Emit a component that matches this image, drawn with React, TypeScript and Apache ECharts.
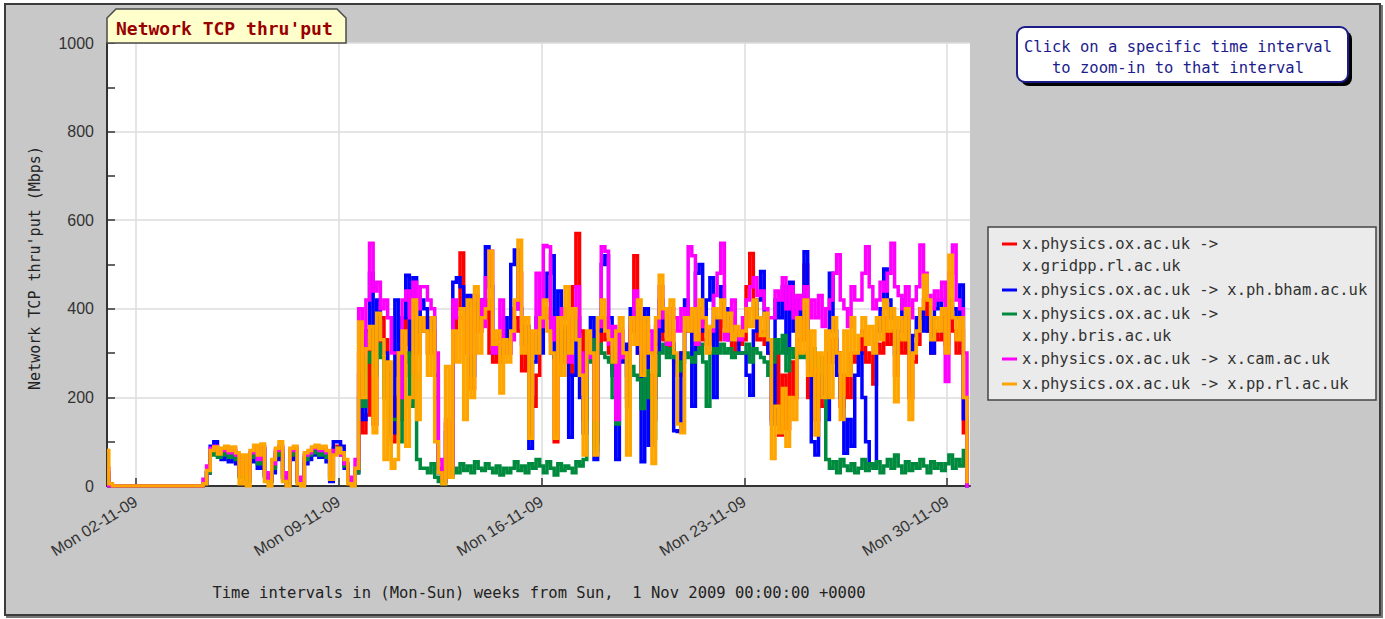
import React, { useEffect, useRef } from "react";
import * as echarts from "echarts";

// ---- axis definitions ----
const STEP_HOURS = 3; // one sample every 3 hours from Sun 1 Nov 2009 00:00
const X_MAX_HOURS = 715;
const tickHours = [24, 192, 360, 528, 696];
const tickLabels = ["Mon 02-11-09", "Mon 09-11-09", "Mon 16-11-09", "Mon 23-11-09", "Mon 30-11-09"];
const yMax = 1000;
const yInterval = 200;

const seriesNames = [
  "x.physics.ox.ac.uk -> x.gridpp.rl.ac.uk",
  "x.physics.ox.ac.uk -> x.ph.bham.ac.uk",
  "x.physics.ox.ac.uk -> x.phy.bris.ac.uk",
  "x.physics.ox.ac.uk -> x.cam.ac.uk",
  "x.physics.ox.ac.uk -> x.pp.rl.ac.uk",
];
const legendLabels = [
  "x.physics.ox.ac.uk ->\nx.gridpp.rl.ac.uk",
  "x.physics.ox.ac.uk -> x.ph.bham.ac.uk",
  "x.physics.ox.ac.uk ->\nx.phy.bris.ac.uk",
  "x.physics.ox.ac.uk -> x.cam.ac.uk",
  "x.physics.ox.ac.uk -> x.pp.rl.ac.uk",
];
const seriesColors = ["#ff0000", "#0000ff", "#008a3e", "#ff00ff", "#ffa500"];

// ---- values (Mbps), 8 samples per day ----
const gridppValues = [
  10, 0, 0, 0, 0, 0, 0, 0,
  0, 0, 0, 0, 0, 0, 0, 0,
  0, 0, 0, 0, 0, 0, 0, 0,
  0, 0, 0, 5, 30, 75, 85, 70,
  75, 80, 70, 80, 65, 25, 60, 15,
  70, 80, 55, 85, 25, 12, 45, 75,
  85, 20, 8, 75, 80, 15, 5, 65,
  70, 80, 85, 75, 80, 70, 20, 85,
  90, 75, 50, 10, 5, 35, 300, 120,
  160, 350, 140, 300, 380, 330, 200, 100,
  200, 150, 320, 380, 250, 400, 300, 350,
  380, 300, 350, 200, 40, 10, 140, 25,
  300, 400, 526, 300, 400, 220, 420, 350,
  380, 420, 300, 280, 320, 280, 350, 300,
  400, 380, 350, 260, 300, 200, 180, 250,
  350, 400, 380, 300, 100, 330, 280, 360,
  250, 450, 570, 350, 150, 300, 330, 100,
  300, 380, 330, 300, 260, 280, 320, 300,
  200, 350, 520, 300, 200, 320, 250, 150,
  320, 380, 330, 300, 350, 280, 250, 300,
  350, 380, 320, 300, 380, 330, 320, 350,
  350, 330, 400, 360, 340, 300, 330, 320,
  330, 450, 525, 400, 330, 350, 320, 300,
  150, 300, 115, 250, 130, 280, 200, 330,
  330, 499, 200, 300, 150, 250, 180, 300,
  280, 330, 300, 180, 250, 200, 300, 280,
  300, 350, 280, 300, 230, 320, 300, 380,
  320, 350, 250, 330, 300, 350, 200, 280,
  320, 380, 420, 350, 300, 350, 330, 380,
  320, 400, 350, 300, 350, 120, 100,
];

const bhamValues = [
  30, 0, 0, 0, 0, 0, 0, 0,
  0, 0, 0, 0, 0, 0, 0, 0,
  0, 0, 0, 0, 0, 0, 0, 0,
  0, 0, 0, 5, 30, 90, 100, 70,
  60, 70, 55, 75, 50, 25, 55, 15,
  55, 70, 40, 80, 20, 10, 30, 60,
  70, 15, 5, 60, 70, 10, 5, 50,
  60, 70, 75, 65, 70, 55, 10, 100,
  100, 90, 40, 10, 5, 30, 250, 150,
  350, 480, 300, 420, 330, 300, 250, 120,
  420, 250, 380, 476, 300, 470, 350, 420,
  400, 350, 380, 250, 30, 10, 120, 30,
  460, 470, 450, 380, 430, 250, 420, 380,
  420, 540, 450, 300, 310, 300, 380, 330,
  500, 533, 400, 320, 360, 85, 280, 380,
  300, 420, 480, 520, 290, 440, 300, 350,
  110, 250, 380, 200, 120, 300, 380, 60,
  350, 500, 520, 380, 250, 60, 280, 320,
  250, 400, 380, 300, 55, 400, 92, 200,
  300, 420, 350, 380, 320, 125, 123, 300,
  420, 350, 180, 480, 500, 350, 420, 470,
  200, 380, 450, 400, 330, 380, 350, 300,
  300, 250, 205, 350, 420, 484, 380, 300,
  140, 420, 380, 450, 300, 460, 350, 420,
  380, 529, 300, 100, 70, 250, 200, 150,
  480, 350, 250, 200, 74, 150, 90, 250,
  300, 200, 100, 47, 47, 350, 400, 490,
  420, 380, 300, 350, 420, 380, 300, 340,
  380, 400, 350, 380, 300, 400, 420, 350,
  380, 420, 400, 380, 454, 152, 0,
];

const brisValues = [
  20, 0, 0, 0, 0, 0, 0, 0,
  0, 0, 0, 0, 0, 0, 0, 0,
  0, 0, 0, 0, 0, 0, 0, 0,
  0, 0, 0, 5, 30, 70, 80, 65,
  70, 75, 65, 78, 60, 20, 60, 10,
  65, 75, 50, 85, 25, 10, 40, 70,
  80, 20, 10, 70, 75, 15, 5, 60,
  70, 75, 80, 70, 75, 65, 15, 75,
  85, 70, 45, 10, 5, 30, 200, 180,
  280, 300, 250, 320, 290, 200, 180, 150,
  150, 100, 280, 300, 180, 250, 60, 40,
  40, 30, 50, 20, 10, 5, 30, 20,
  40, 30, 50, 35, 45, 30, 55, 40,
  35, 50, 40, 30, 45, 25, 40, 30,
  40, 55, 35, 45, 30, 50, 40, 60,
  45, 30, 55, 40, 25, 50, 35, 45,
  40, 30, 55, 45, 60, 280, 330, 80,
  320, 300, 290, 280, 200, 140, 300, 290,
  180, 270, 250, 240, 175, 260, 200, 107,
  250, 300, 320, 290, 310, 290, 260, 280,
  300, 290, 280, 300, 320, 280, 180, 300,
  310, 300, 320, 300, 310, 290, 300, 300,
  300, 320, 280, 310, 300, 290, 280, 250,
  280, 330, 300, 340, 260, 310, 290, 300,
  290, 300, 280, 310, 270, 290, 250, 60,
  40, 55, 30, 60, 45, 35, 50, 30,
  40, 60, 35, 50, 40, 55, 30, 45,
  60, 40, 70, 45, 30, 55, 35, 50,
  40, 60, 45, 30, 55, 40, 50, 35,
  50, 70, 40, 60, 45, 80, 40,
];

const camValues = [
  40, 0, 0, 0, 0, 0, 0, 0,
  0, 0, 0, 0, 0, 0, 0, 0,
  0, 0, 0, 0, 0, 0, 0, 0,
  0, 0, 0, 15, 45, 85, 90, 80,
  80, 85, 75, 85, 70, 30, 65, 20,
  75, 85, 60, 90, 30, 15, 50, 80,
  90, 30, 15, 80, 85, 20, 10, 70,
  75, 85, 90, 80, 85, 75, 25, 80,
  80, 70, 50, 20, 10, 60, 400, 300,
  420, 548, 440, 460, 400, 420, 380, 300,
  300, 200, 420, 440, 380, 460, 400, 450,
  450, 420, 400, 300, 60, 20, 150, 40,
  420, 380, 380, 350, 400, 300, 430, 420,
  360, 470, 530, 300, 330, 420, 310, 300,
  330, 400, 480, 350, 320, 300, 340, 480,
  360, 543, 540, 330, 380, 360, 400, 380,
  280, 380, 450, 300, 250, 330, 290, 150,
  360, 540, 530, 320, 360, 150, 350, 290,
  300, 360, 440, 400, 300, 360, 350, 300,
  360, 450, 380, 320, 400, 380, 350, 400,
  360, 540, 520, 320, 400, 360, 330, 350,
  430, 480, 548, 330, 370, 420, 350, 330,
  380, 420, 450, 470, 430, 440, 400, 380,
  380, 440, 420, 470, 400, 450, 380, 430,
  400, 450, 380, 420, 380, 430, 360, 400,
  420, 480, 522, 420, 400, 360, 450, 420,
  420, 480, 540, 450, 400, 420, 460, 440,
  480, 548, 450, 430, 400, 450, 380, 420,
  450, 544, 480, 430, 400, 440, 420, 460,
  236, 480, 544, 420, 400, 300, 0,
];

const pprlValues = [
  80, 5, 0, 0, 0, 0, 0, 0,
  0, 0, 0, 0, 0, 0, 0, 0,
  0, 0, 0, 0, 0, 0, 0, 0,
  0, 0, 0, 5, 35, 80, 88, 72,
  85, 90, 80, 88, 75, 5, 70, 0,
  80, 92, 70, 95, 10, 0, 60, 85,
  100, 10, 0, 85, 90, 5, 0, 75,
  80, 88, 92, 85, 90, 80, 15, 70,
  85, 75, 60, 5, 0, 40, 370, 200,
  310, 360, 120, 390, 330, 60, 280, 40,
  60, 300, 350, 90, 200, 420, 150, 380,
  350, 250, 380, 100, 30, 5, 270, 20,
  350, 280, 400, 150, 420, 200, 450, 300,
  380, 400, 530, 320, 350, 210, 330, 280,
  350, 420, 555, 300, 380, 108, 350, 300,
  380, 420, 350, 300, 108, 380, 250, 450,
  300, 400, 330, 250, 70, 350, 300, 70,
  380, 420, 350, 330, 280, 350, 380, 300,
  70, 380, 320, 420, 250, 380, 300, 51,
  380, 476, 400, 330, 420, 300, 140, 120,
  380, 350, 400, 330, 420, 380, 300, 360,
  400, 380, 420, 350, 390, 330, 360, 340,
  350, 400, 360, 420, 380, 340, 390, 330,
  62, 180, 120, 220, 90, 200, 150, 380,
  300, 420, 250, 350, 115, 300, 200, 350,
  200, 380, 300, 150, 350, 250, 380, 300,
  340, 380, 320, 360, 300, 380, 330, 420,
  350, 400, 190, 380, 330, 400, 150, 300,
  350, 400, 476, 420, 330, 380, 350, 400,
  300, 521, 380, 330, 380, 200, 10,
];

const allValues = [gridppValues, bhamValues, brisValues, camValues, pprlValues];

const MONO = "'DejaVu Sans Mono', 'Liberation Mono', monospace";
const SANS = "'Liberation Sans', Arial, sans-serif";

export default function App() {
  const ref = useRef<HTMLDivElement>(null);

  useEffect(() => {
    if (!ref.current) return;
    const chart = echarts.init(ref.current, null, { renderer: "svg" });

    const series = allValues.map((vals, k) => ({
      name: seriesNames[k],
      type: "line",
      step: "middle",
      data: vals.map((v, i) => [i * STEP_HOURS, v]),
      showSymbol: false,
      symbol: "none",
      silent: true,
      lineStyle: { color: seriesColors[k], width: 3.5, join: "miter", cap: "butt" },
      itemStyle: { color: seriesColors[k] },
      emphasis: { disabled: true },
      z: 2 + k,
    }));

    const legendItemY = [244, 290, 314, 359, 384];
    const legendGraphics: any[] = [];
    legendLabels.forEach((lbl, k) => {
      legendGraphics.push({
        type: "line",
        shape: { x1: 1002, y1: legendItemY[k], x2: 1017, y2: legendItemY[k] },
        style: { stroke: seriesColors[k], lineWidth: 3 },
        z: 100,
      });
      legendGraphics.push({
        type: "text",
        x: 1022,
        y: legendItemY[k] - 11,
        style: {
          text: lbl,
          fill: "#333",
          font: `15.5px ${MONO}`,
          lineHeight: 22,
          textAlign: "left",
          textVerticalAlign: "top",
        },
        z: 100,
      });
    });

    const option: any = {
      animation: false,
      grid: {
        left: 107,
        top: 43,
        width: 863,
        height: 443,
        show: true,
        backgroundColor: "#ffffff",
        borderWidth: 0,
      },
      xAxis: {
        type: "value",
        min: 0,
        max: X_MAX_HOURS,
        axisLine: { show: true, onZero: false, lineStyle: { color: "#333", width: 2 } },
        axisTick: {
          show: true,
          inside: true,
          length: 8,
          customValues: tickHours,
          lineStyle: { color: "#333", width: 1.5 },
        },
        axisLabel: {
          customValues: tickHours,
          rotate: 32,
          margin: 14,
          fontSize: 16,
          fontFamily: SANS,
          color: "#333",
          formatter: (v: number) => {
            const k = tickHours.indexOf(Math.round(v));
            return k >= 0 ? tickLabels[k] : "";
          },
        },
        splitLine: { show: true, lineStyle: { color: "#dcdcdc", width: 1.5 } },
      },
      yAxis: {
        type: "value",
        min: 0,
        max: yMax,
        interval: yInterval,
        axisLine: { show: true, lineStyle: { color: "#333", width: 2 } },
        axisTick: { show: true, inside: true, length: 8, lineStyle: { color: "#333", width: 1.5 } },
        minorTick: { show: true, splitNumber: 2, length: 8, lineStyle: { color: "#333", width: 1.5 } },
        axisLabel: {
          margin: 13,
          fontSize: 16,
          fontFamily: SANS,
          color: "#333",
          formatter: (v: number) => String(v),
        },
        splitLine: { show: true, lineStyle: { color: "#dcdcdc", width: 1.5 } },
      },
      series,
      graphic: [
        // title tab
        {
          type: "polygon",
          shape: {
            points: [
              [107, 43],
              [107, 18],
              [116, 9],
              [337, 9],
              [346, 18],
              [346, 43],
            ],
          },
          style: { fill: "#ffffcc", stroke: "#4a4a4a", lineWidth: 1.5 },
          z: 100,
        },
        {
          type: "text",
          x: 116,
          y: 28,
          style: {
            text: "Network TCP thru'put",
            fill: "#990000",
            font: `bold 18px ${MONO}`,
            textAlign: "left",
            textVerticalAlign: "middle",
          },
          z: 101,
        },
        // info box
        {
          type: "rect",
          shape: { x: 1021, y: 31, width: 331, height: 55, r: 8 },
          style: { fill: "#000000" },
          z: 100,
        },
        {
          type: "rect",
          shape: { x: 1017, y: 27, width: 331, height: 55, r: 8 },
          style: { fill: "#ffffff", stroke: "#1c1c8a", lineWidth: 2 },
          z: 101,
        },
        {
          type: "text",
          x: 1178,
          y: 47,
          style: {
            text: "Click on a specific time interval",
            fill: "#1c1c8c",
            font: `15.5px ${MONO}`,
            textAlign: "center",
            textVerticalAlign: "middle",
          },
          z: 102,
        },
        {
          type: "text",
          x: 1178,
          y: 68,
          style: {
            text: "to zoom-in to that interval",
            fill: "#1c1c8c",
            font: `15.5px ${MONO}`,
            textAlign: "center",
            textVerticalAlign: "middle",
          },
          z: 102,
        },
        // legend box
        {
          type: "rect",
          shape: { x: 988, y: 227, width: 388, height: 173 },
          style: { fill: "#ebebeb", stroke: "#444", lineWidth: 1.5 },
          z: 99,
        },
        ...legendGraphics,
        // axis titles
        {
          type: "text",
          x: 35,
          y: 268,
          rotation: Math.PI / 2,
          style: {
            text: "Network TCP thru'put (Mbps)",
            fill: "#222",
            font: `15px ${MONO}`,
            textAlign: "center",
            textVerticalAlign: "middle",
          },
          z: 100,
        },
        {
          type: "text",
          x: 539,
          y: 593,
          style: {
            text: "Time intervals in (Mon-Sun) weeks from Sun,  1 Nov 2009 00:00:00 +0000",
            fill: "#222",
            font: `15.5px ${MONO}`,
            textAlign: "center",
            textVerticalAlign: "middle",
          },
          z: 100,
        },
      ],
    };

    chart.setOption(option);
    return () => chart.dispose();
  }, []);

  return (
    <div
      style={{
        position: "fixed",
        left: 0,
        top: 0,
        width: 1385,
        height: 619,
        background: "#ffffff",
        overflow: "hidden",
      }}
    >
      <div
        style={{
          position: "absolute",
          left: 4,
          top: 3,
          width: 1373,
          height: 609,
          background: "#c8c8c8",
          border: "2px solid #3c3c3c",
          boxShadow: "2px 2px 0 #777",
        }}
      />
      <div ref={ref} style={{ position: "absolute", left: 0, top: 0, width: 1385, height: 619 }} />
    </div>
  );
}
